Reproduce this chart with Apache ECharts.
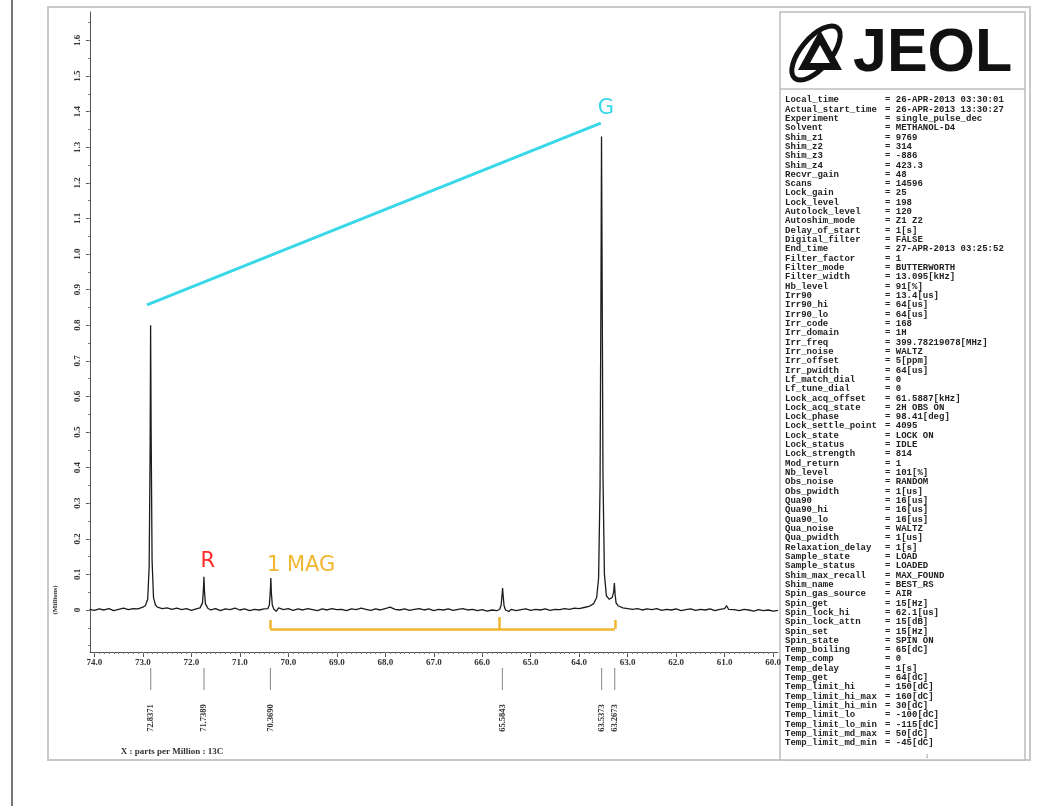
<!DOCTYPE html>
<html><head><meta charset="utf-8">
<script src="https://cdn.jsdelivr.net/npm/echarts@6/dist/echarts.min.js"></script>
<style>html,body{margin:0;padding:0;background:#fff}#c{width:1041px;height:806px}</style>
</head><body><div id="c"></div>
<script>
// ---------- data ----------
// 13C spectrum: [ppm, intensity (millions)]
const spectrum = [
 [74.1,0.002],[74.0,-0.001],[73.9,0.003],[73.8,0.000],[73.7,0.004],[73.6,-0.002],[73.5,0.002],[73.4,0.005],
 [73.3,0.001],[73.2,0.004],[73.1,0.003],[73.0,0.008],[72.95,0.012],[72.9,0.03],[72.87,0.12],[72.85,0.45],
 [72.84,0.80],[72.83,0.52],[72.81,0.14],[72.78,0.035],[72.74,0.014],[72.7,0.008],[72.6,0.004],[72.5,0.006],
 [72.4,0.002],[72.3,0.005],[72.2,0.001],[72.1,0.004],[72.0,-0.001],[71.9,0.003],[71.82,0.006],[71.77,0.02],
 [71.75,0.06],[71.74,0.093],[71.73,0.055],[71.71,0.018],[71.66,0.005],[71.6,0.000],[71.5,0.004],[71.4,-0.002],
 [71.3,0.003],[71.2,0.001],[71.1,0.005],[71.0,0.000],[70.9,0.003],[70.8,-0.002],[70.7,0.002],[70.6,0.000],
 [70.5,0.003],[70.42,0.004],[70.39,0.015],[70.37,0.055],[70.36,0.09],[70.35,0.05],[70.33,0.014],[70.3,0.003],
 [70.25,-0.004],[70.2,0.006],[70.1,0.001],[70.0,0.004],[69.9,-0.001],[69.8,0.003],[69.7,0.000],[69.6,0.004],
 [69.5,0.001],[69.4,-0.002],[69.3,0.003],[69.2,0.000],[69.1,0.004],[69.0,0.001],[68.9,0.002],[68.8,-0.002],
 [68.7,0.003],[68.6,0.001],[68.5,0.005],[68.4,0.002],[68.3,-0.001],[68.2,0.003],[68.1,0.000],[68.0,0.004],
 [67.9,0.008],[67.8,0.002],[67.7,0.000],[67.6,0.003],[67.5,-0.001],[67.4,0.002],[67.3,0.004],[67.2,0.000],
 [67.1,0.003],[67.0,-0.002],[66.9,0.002],[66.8,0.000],[66.7,0.003],[66.6,-0.001],[66.5,0.002],[66.4,0.004],
 [66.3,0.000],[66.2,0.002],[66.1,-0.002],[66.0,0.001],[65.9,-0.003],[65.8,0.000],[65.7,-0.002],[65.64,0.002],
 [65.61,0.014],[65.59,0.045],[65.58,0.062],[65.57,0.042],[65.55,0.012],[65.52,0.000],[65.45,-0.004],[65.4,0.002],
 [65.3,-0.002],[65.2,0.001],[65.1,0.003],[65.0,-0.001],[64.9,0.002],[64.8,0.000],[64.7,0.003],[64.6,-0.001],
 [64.5,0.002],[64.4,0.001],[64.3,0.004],[64.2,0.002],[64.1,0.005],[64.0,0.004],[63.9,0.007],[63.8,0.010],
 [63.7,0.018],[63.64,0.035],[63.6,0.09],[63.57,0.35],[63.55,0.95],[63.54,1.33],[63.53,1.02],[63.51,0.38],
 [63.48,0.10],[63.44,0.04],[63.38,0.03],[63.32,0.035],[63.29,0.05],[63.275,0.076],[63.26,0.045],[63.24,0.02],
 [63.2,0.012],[63.1,0.006],[63.0,0.004],[62.9,0.002],[62.8,0.004],[62.7,0.000],[62.6,0.003],[62.5,0.001],
 [62.4,0.004],[62.3,-0.001],[62.2,0.002],[62.1,0.000],[62.0,0.003],[61.9,-0.002],[61.8,0.001],[61.7,0.003],
 [61.6,-0.001],[61.5,0.002],[61.4,0.000],[61.3,0.003],[61.2,-0.002],[61.1,0.002],[61.0,0.004],[60.96,0.012],
 [60.92,0.002],[60.8,0.001],[60.7,-0.002],[60.6,0.002],[60.5,0.000],[60.4,-0.003],[60.3,0.001],[60.2,-0.002],
 [60.1,0.000],[60.0,-0.003],[59.9,-0.001]
];
const xTickValues = [74,73,72,71,70,69,68,67,66,65,64,63,62,61,60];
const xTickLabels = ['74.0','73.0','72.0','71.0','70.0','69.0','68.0','67.0','66.0','65.0','64.0','63.0','62.0','61.0','60.0'];
const yTickValues = [0,0.1,0.2,0.3,0.4,0.5,0.6,0.7,0.8,0.9,1.0,1.1,1.2,1.3,1.4,1.5,1.6];
const yTickLabels = ['0','0.1','0.2','0.3','0.4','0.5','0.6','0.7','0.8','0.9','1.0','1.1','1.2','1.3','1.4','1.5','1.6'];
const peakPpm = [72.8371, 71.7389, 70.3690, 65.5843, 63.5373, 63.2673];
const peakLabels = ['72.8371','71.7389','70.3690','65.5843','63.5373','63.2673'];
const annoPpm = [63.45, 71.66, 70.44];
const annoValue = [1.41, 0.135, 0.124];
const annoText = ['G', 'R', '1 MAG'];
const paramNames = ['Local_time','Actual_start_time','Experiment','Solvent','Shim_z1','Shim_z2','Shim_z3','Shim_z4',
 'Recvr_gain','Scans','Lock_gain','Lock_level','Autolock_level','Autoshim_mode','Delay_of_start','Digital_filter',
 'End_time','Filter_factor','Filter_mode','Filter_width','Hb_level','Irr90','Irr90_hi','Irr90_lo','Irr_code',
 'Irr_domain','Irr_freq','Irr_noise','Irr_offset','Irr_pwidth','Lf_match_dial','Lf_tune_dial','Lock_acq_offset',
 'Lock_acq_state','Lock_phase','Lock_settle_point','Lock_state','Lock_status','Lock_strength','Mod_return','Nb_level',
 'Obs_noise','Obs_pwidth','Qua90','Qua90_hi','Qua90_lo','Qua_noise','Qua_pwidth','Relaxation_delay','Sample_state',
 'Sample_status','Shim_max_recall','Shim_name','Spin_gas_source','Spin_get','Spin_lock_hi','Spin_lock_attn','Spin_set',
 'Spin_state','Temp_boiling','Temp_comp','Temp_delay','Temp_get','Temp_limit_hi','Temp_limit_hi_max','Temp_limit_hi_min',
 'Temp_limit_lo','Temp_limit_lo_min','Temp_limit_md_max','Temp_limit_md_min'];
const paramValues = ['26-APR-2013 03:30:01','26-APR-2013 13:30:27','single_pulse_dec','METHANOL-D4','9769','314','-886','423.3',
 '48','14596','25','198','120','Z1 Z2','1[s]','FALSE',
 '27-APR-2013 03:25:52','1','BUTTERWORTH','13.095[kHz]','91[%]','13.4[us]','64[us]','64[us]','168',
 '1H','399.78219078[MHz]','WALTZ','5[ppm]','64[us]','0','0','61.5887[kHz]',
 '2H OBS ON','98.41[deg]','4095','LOCK ON','IDLE','814','1','101[%]',
 'RANDOM','1[us]','16[us]','16[us]','16[us]','WALTZ','1[us]','1[s]','LOAD',
 'LOADED','MAX_FOUND','BEST_RS','AIR','15[Hz]','62.1[us]','15[dB]','15[Hz]',
 'SPIN ON','65[dC]','0','1[s]','64[dC]','150[dC]','160[dC]','30[dC]',
 '-100[dC]','-115[dC]','50[dC]','-45[dC]'];

// ---------- chart ----------
const XMIN = 59.9, XMAX = 74.09, YMIN = -0.118, YMAX = 1.68;
const xMinor = []; for (let k = 0; k <= 141; k++) xMinor.push(+(60 + k * 0.1).toFixed(1));
const yMinor = []; for (let k = 0; k <= 35; k++) yMinor.push(+(-0.1 + k * 0.05).toFixed(2));
const lblFont = { fontFamily: 'Liberation Serif', fontWeight: 'bold', fontSize: 9, color: '#333' };
function pick(vals, labs, v) { for (let i = 0; i < vals.length; i++) if (Math.abs(vals[i] - v) < 1e-6) return labs[i]; return ''; }

const chart = echarts.init(document.getElementById('c'), null, { renderer: 'canvas' });
const cyan = '#38d8e8', red = '#ff2b2b', gold = '#f2b530';
const annoColor = [cyan, red, gold];

const graphics = [];
// page edge + frame
graphics.push({ type: 'line', shape: { x1: 12, y1: 0, x2: 12, y2: 806 }, style: { stroke: '#777', lineWidth: 2 } });
graphics.push({ type: 'rect', shape: { x: 48, y: 7, width: 982, height: 753 }, style: { fill: 'none', stroke: '#c8c8c8', lineWidth: 2 } });
// right panel
graphics.push({ type: 'rect', shape: { x: 780, y: 12, width: 245, height: 748 }, style: { fill: '#fff', stroke: '#bdbdbd', lineWidth: 1.5 } });
graphics.push({ type: 'line', shape: { x1: 780, y1: 89, x2: 1025, y2: 89 }, style: { stroke: '#bdbdbd', lineWidth: 1.5 } });
// JEOL logo
graphics.push({ type: 'ellipse', shape: { cx: 816, cy: 53, rx: 15, ry: 33 }, rotation: -0.7, originX: 816, originY: 53, style: { fill: 'none', stroke: '#111', lineWidth: 5 } });
graphics.push({ type: 'polygon', shape: { points: [[798, 70], [820, 30], [842, 70]] }, style: { fill: '#111' } });
graphics.push({ type: 'polygon', shape: { points: [[810, 63], [820, 45], [830, 63]] }, style: { fill: '#fff' } });
graphics.push({ type: 'text', x: 853, y: 54, style: { text: 'JEOL', font: 'bold 61px "Liberation Sans"', fill: '#111', verticalAlign: 'middle' } });
// parameter list
for (let i = 0; i < paramNames.length; i++) {
  const y = 100 + i * 9.32;
  graphics.push({ type: 'text', x: 785, y: y, style: { text: paramNames[i], font: 'bold 9px "Liberation Mono"', fill: '#222', verticalAlign: 'middle' } });
  graphics.push({ type: 'text', x: 885, y: y, style: { text: '= ' + paramValues[i], font: 'bold 9px "Liberation Mono"', fill: '#222', verticalAlign: 'middle' } });
}
graphics.push({ type: 'text', x: 927, y: 756, style: { text: '1', font: '7px "Liberation Serif"', fill: '#777', align: 'center', verticalAlign: 'middle' } });
// axis titles
graphics.push({ type: 'text', x: 55, y: 600, rotation: Math.PI / 2, style: { text: '(Millions)', font: 'bold 7px "Liberation Serif"', fill: '#333', align: 'center', verticalAlign: 'middle' } });
graphics.push({ type: 'text', x: 172, y: 752, style: { text: 'X : parts per Million : 13C', font: 'bold 9px "Liberation Serif"', fill: '#333', align: 'center', verticalAlign: 'middle' } });

const option = {
  animation: false,
  backgroundColor: '#fff',
  grid: { left: 90, top: 12, width: 688, height: 640, containLabel: false },
  xAxis: [{
    type: 'value', inverse: true, min: XMIN, max: XMAX, position: 'bottom',
    axisLine: { show: true, onZero: false, lineStyle: { color: '#555', width: 1 } },
    axisTick: { show: true, customValues: xTickValues, length: 5, lineStyle: { color: '#555' } },
    axisLabel: Object.assign({ show: true, customValues: xTickValues, margin: 6, formatter: v => pick(xTickValues, xTickLabels, v) }, lblFont),
    splitLine: { show: false }
  }, {
    type: 'value', inverse: true, min: XMIN, max: XMAX, position: 'bottom',
    axisLine: { show: false, onZero: false },
    axisTick: { show: true, customValues: xMinor, length: 2, lineStyle: { color: '#777' } },
    axisLabel: { show: false }, splitLine: { show: false }
  }],
  yAxis: [{
    type: 'value', min: YMIN, max: YMAX, position: 'left',
    axisLine: { show: true, onZero: false, lineStyle: { color: '#555', width: 1 } },
    axisTick: { show: true, customValues: yTickValues, length: 4, lineStyle: { color: '#555' } },
    axisLabel: Object.assign({ show: true, customValues: yTickValues, rotate: 90, margin: 8, formatter: v => pick(yTickValues, yTickLabels, v) }, lblFont),
    splitLine: { show: false }
  }, {
    type: 'value', min: YMIN, max: YMAX, position: 'left',
    axisLine: { show: false, onZero: false },
    axisTick: { show: true, customValues: yMinor, length: 2, lineStyle: { color: '#777' } },
    axisLabel: { show: false }, splitLine: { show: false }
  }],
  graphic: graphics,
  series: [{
    type: 'line', xAxisIndex: 0, yAxisIndex: 0, data: spectrum, symbol: 'none', smooth: false,
    lineStyle: { color: '#1c1c1c', width: 1.3 }, z: 3,
    markLine: {
      silent: true, symbol: ['none', 'none'], label: { show: false }, animation: false,
      data: [
        [{ coord: [72.914, 0.857], lineStyle: { color: cyan, width: 3, type: 'solid' } }, { coord: [63.555, 1.368] }],
        [{ coord: [70.374, -0.053], lineStyle: { color: gold, width: 2.5, type: 'solid' } }, { coord: [63.265, -0.053] }],
        [{ coord: [70.374, -0.028], lineStyle: { color: gold, width: 2.5, type: 'solid' } }, { coord: [70.374, -0.053] }],
        [{ coord: [65.64, -0.020], lineStyle: { color: gold, width: 2.5, type: 'solid' } }, { coord: [65.64, -0.053] }],
        [{ coord: [63.265, -0.028], lineStyle: { color: gold, width: 2.5, type: 'solid' } }, { coord: [63.265, -0.053] }]
      ]
    }
  }, {
    type: 'custom', xAxisIndex: 0, yAxisIndex: 0, clip: false, silent: true, z: 5,
    data: annoPpm.map((p, i) => [p, annoValue[i], i]),
    renderItem: (params, api) => {
      const i = api.value(2);
      const pt = api.coord([api.value(0), api.value(1)]);
      const isMag = annoText[i] === '1 MAG';
      return { type: 'text', x: pt[0], y: pt[1], style: { text: annoText[i], fill: annoColor[i], font: '21px "DejaVu Sans"', align: isMag ? 'left' : 'center', verticalAlign: 'middle' } };
    }
  }, {
    type: 'custom', xAxisIndex: 0, yAxisIndex: 0, clip: false, silent: true, z: 5,
    data: peakPpm.map((p, i) => [p, i]),
    renderItem: (params, api) => {
      const i = api.value(1);
      const pt = api.coord([api.value(0), YMIN]);
      return { type: 'group', children: [
        { type: 'line', shape: { x1: pt[0], y1: pt[1] + 16, x2: pt[0], y2: pt[1] + 38 }, style: { stroke: '#666', lineWidth: 0.8 } },
        { type: 'text', x: pt[0], y: pt[1] + 66, rotation: Math.PI / 2, style: { text: peakLabels[i], font: 'bold 8.5px "Liberation Serif"', fill: '#333', align: 'center', verticalAlign: 'middle' } }
      ] };
    }
  }]
};
chart.setOption(option);
</script>
</body></html>
